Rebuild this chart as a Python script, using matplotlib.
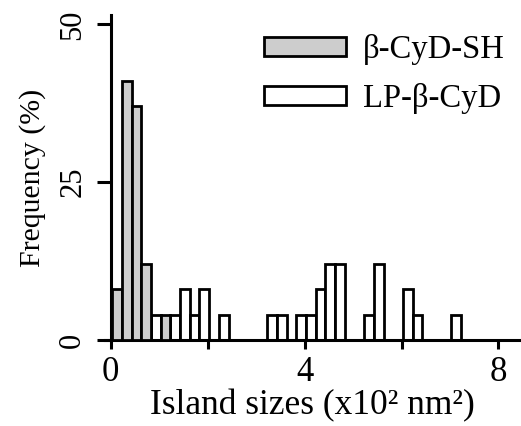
import matplotlib
matplotlib.use('Agg')
import matplotlib.pyplot as plt
from matplotlib.patches import Patch

# Island size bins (left edge, x10^2 nm^2) and frequencies (%)
bin_width = 0.2
sh_sizes = [0.0, 0.2, 0.4, 0.6, 1.0]
sh_freq = [8, 41, 37, 12, 4]

lp_sizes = [0.8, 1.2, 1.4, 1.6, 1.8, 2.2, 3.2, 3.4, 3.8, 4.0,
            4.2, 4.4, 4.6, 5.2, 5.4, 6.0, 6.2, 7.0]
lp_freq = [4, 4, 8, 4, 8, 4, 4, 4, 4, 4,
           8, 12, 12, 4, 12, 8, 4, 4]

labels = ['\u03b2-CyD-SH', 'LP-\u03b2-CyD']
xticks = [0, 2, 4, 6, 8]
xticklabels = ['0', '', '4', '', '8']
yticks = [0, 25, 50]

plt.rcParams['font.family'] = ['Liberation Serif', 'DejaVu Serif']

fig = plt.figure(figsize=(5.21, 4.26), dpi=100)
ax = fig.add_axes([0.2015, 0.202, 0.797, 0.763])

shift = 0.03  # slight offset of the bins from the origin as in the original
ax.bar([s + shift for s in lp_sizes], lp_freq, width=bin_width, align='edge',
       facecolor='white', edgecolor='black', linewidth=2.0, zorder=2)
ax.bar([s + shift for s in sh_sizes], sh_freq, width=bin_width, align='edge',
       facecolor='#cdcdcd', edgecolor='black', linewidth=2.0, zorder=3)

ax.set_xlim(-0.12, 8.45)
ax.set_ylim(0, 51.5)

ax.spines['top'].set_visible(False)
ax.spines['right'].set_visible(False)
ax.spines['left'].set_position(('data', 0))
ax.spines['left'].set_linewidth(2.2)
ax.spines['bottom'].set_linewidth(2.2)

ax.set_xticks(xticks)
ax.set_xticklabels(xticklabels, fontsize=25)
ax.set_yticks(yticks)
ax.set_yticklabels([str(t) for t in yticks], fontsize=22, rotation=90, va='center')
ax.tick_params(axis='x', direction='out', length=6.5, width=2.2, pad=5)
ax.tick_params(axis='y', direction='out', length=10, width=2.2, pad=7)

ax.set_xlabel('Island sizes (x10\u00b2 nm\u00b2)', fontsize=25.5, labelpad=0)
ax.set_ylabel('Frequency (%)', fontsize=21.5, labelpad=9)

handles = [Patch(facecolor='#cdcdcd', edgecolor='black', linewidth=2.0),
           Patch(facecolor='white', edgecolor='black', linewidth=2.0)]
ax.legend(handles, labels, loc='upper left', bbox_to_anchor=(264 / 521, 1 - 34 / 426),
          bbox_transform=fig.transFigure, frameon=False, fontsize=23.5,
          handlelength=2.5, handleheight=0.52, handletextpad=0.52,
          labelspacing=0.55, borderpad=0, borderaxespad=0)

fig.savefig('out.png', dpi=100)
